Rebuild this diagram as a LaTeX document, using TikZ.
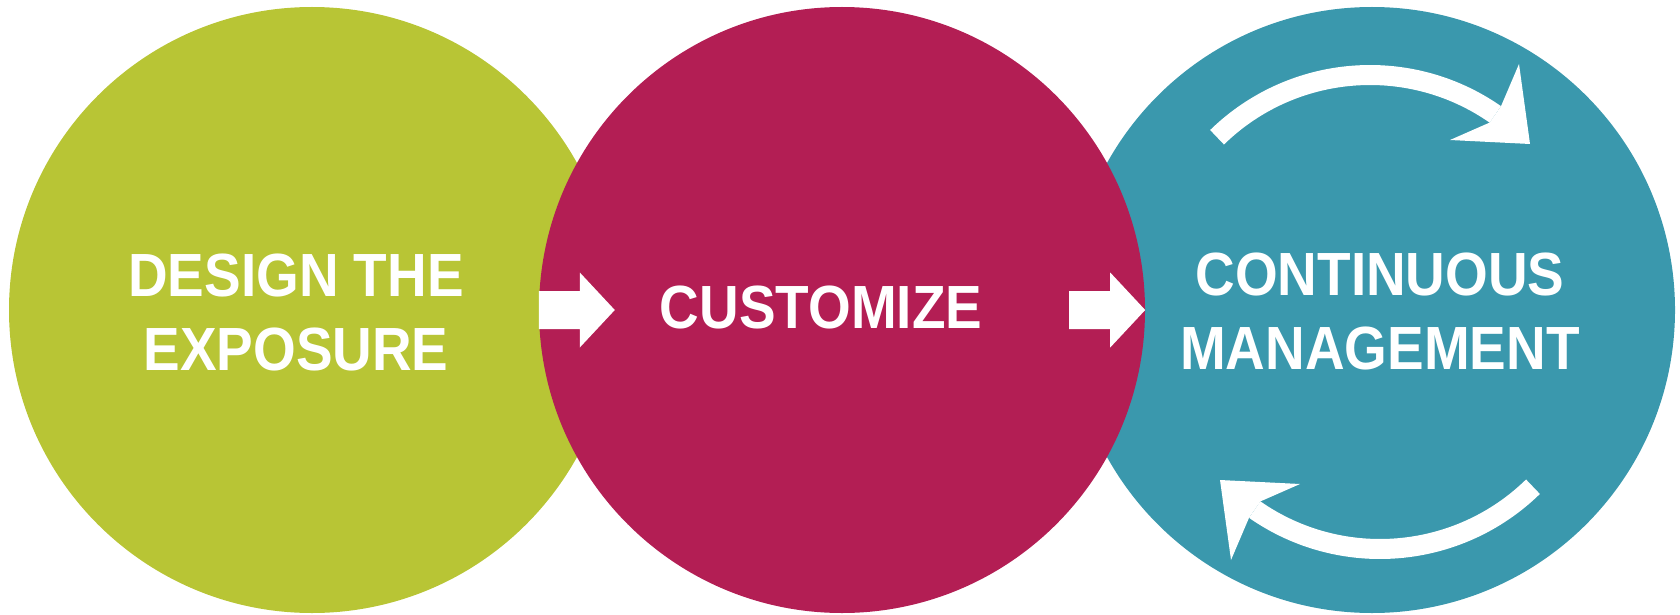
\documentclass[tikz,border=0pt]{standalone}
\usepackage{fontspec}
\usepackage{tikz}
\usetikzlibrary{calc}

\newfontfamily\stagefont{Liberation Sans}[FakeStretch=0.9]

\definecolor{stagegreen}{HTML}{B8C535}
\definecolor{stagered}{HTML}{B31E54}
\definecolor{stageblue}{HTML}{3A98AD}

\tikzset{
    stage/.style={circle, minimum size=606pt, inner sep=0pt},
    stagelabel/.style={text=white, align=center, inner sep=0pt,
        font=\stagefont\bfseries\fontsize{61}{74}\selectfont},
    flow/.style={fill=white},
    cycleband/.style={draw=white, line width=20pt},
}

\begin{document}
\begin{tikzpicture}[x=1pt, y=-1pt]
    \useasboundingbox (0,0) rectangle (1680,615);

    % the middle circle goes last so it sits over the other two
    \node[stage, fill=stagegreen] (design) at (312,310) {};
    \node[stage, fill=stageblue] (manage) at (1372,310) {};
    \node[stage, fill=stagered] (custom) at ($(design)!0.5!(manage)$) {};

    \node[stagelabel] (designtext) at ([xshift=-16pt, yshift=-2pt]design.center) {DESIGN THE\\EXPOSURE};
    \node[stagelabel] (customtext) at ([xshift=-21pt, yshift=2.5pt]custom.center) {CUSTOMIZE};
    \node[stagelabel] (managetext) at ([xshift=8pt, yshift=-1pt]manage.center) {CONTINUOUS\\MANAGEMENT};

    % block arrows on both rims of the middle circle
    \fill[flow] (custom.west) ++(0,-19) -- ++(41,0) -- ++(0,-18.5) -- ++(35,37.5)
        -- ++(-35,37.5) -- ++(0,-18.5) -- ++(-41,0) -- cycle;
    \fill[flow] (custom.east) ++(-76,-19) -- ++(41,0) -- ++(0,-18.5) -- ++(35,37.5)
        -- ++(-35,37.5) -- ++(0,-18.5) -- ++(-41,0) -- cycle;

    % the two curved arrows of the cycle
    \foreach \turn in {0,180} {
        \begin{scope}[rotate around={\turn:(1375,312)}]
            \draw[cycleband] (1370,294) ++(-134.3:219) arc[start angle=-134.3, end angle=-55.1, radius=219];
            \fill[flow] (1501,106.2) -- (1519,64) -- (1530,144) -- (1450,140) -- (1489.6,122.6) -- cycle;
        \end{scope}
    }
\end{tikzpicture}
\end{document}
